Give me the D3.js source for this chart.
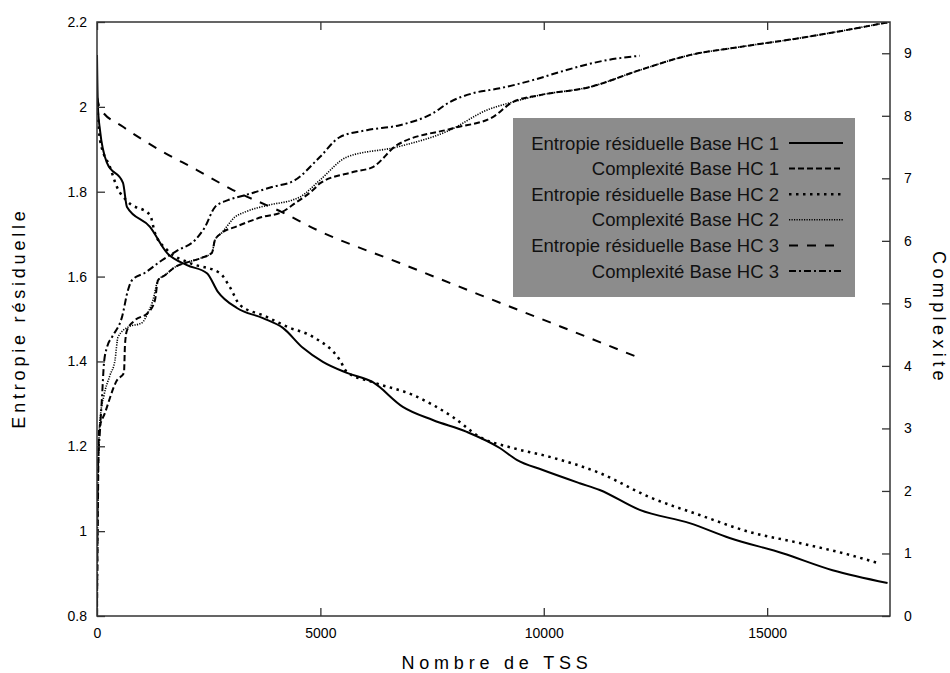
<!DOCTYPE html>
<html><head><meta charset="utf-8">
<script src="https://cdn.jsdelivr.net/npm/d3@7"></script>
<style>
html,body{margin:0;padding:0;background:#fff;}
svg{display:block;font-family:"Liberation Sans",Arial,sans-serif;}
</style></head>
<body>
<svg id="chart" width="950" height="673"></svg>
<script>
// ---- data (x = Nombre de TSS) ----
const entropieHC1 = [[0,2.122],[20,2.0],[67,1.945],[224,1.868],[582,1.821],[671,1.764],[1186,1.717],[1566,1.656],[2013,1.627],[2461,1.608],[2707,1.564],[3132,1.526],[3713,1.502],[4161,1.479],[4608,1.432],[5056,1.399],[5593,1.373],[6174,1.351],[6845,1.293],[7516,1.262],[8277,1.234],[9015,1.196],[9395,1.168],[9977,1.144],[10805,1.113],[11252,1.097],[12147,1.050],[13265,1.019],[14160,0.984],[15346,0.948],[16464,0.908],[17695,0.878]];
const entropieHC2 = [[0,2.02],[67,1.922],[291,1.858],[447,1.811],[693,1.776],[1186,1.745],[1297,1.703],[1566,1.663],[2080,1.632],[2751,1.608],[2975,1.575],[3199,1.533],[3758,1.507],[4273,1.481],[4832,1.458],[5436,1.403],[5593,1.375],[6174,1.351],[7069,1.321],[7964,1.269],[8568,1.222],[9306,1.196],[10133,1.175],[11252,1.137],[12371,1.080],[13489,1.038],[14608,0.998],[15726,0.972],[16845,0.944],[17471,0.925]];
const entropieHC3 = [[0,2.023],[67,1.997],[582,1.953],[1029,1.922],[1409,1.898],[2237,1.851],[3042,1.804],[4138,1.752],[4921,1.710],[6778,1.632],[8568,1.557],[10357,1.483],[12147,1.408]];
const complexiteHC1 = [[0,0],[22,1.86],[45,2.97],[179,3.25],[447,3.77],[604,3.89],[626,4.33],[671,4.57],[850,4.73],[1141,4.85],[1297,5.05],[1365,5.37],[1521,5.45],[1745,5.58],[2036,5.66],[2349,5.73],[2573,5.81],[2640,6.01],[2796,6.13],[3087,6.22],[3691,6.38],[4138,6.46],[4429,6.60],[4877,6.84],[4988,6.92],[5727,7.10],[6174,7.18],[6711,7.53],[7964,7.80],[8859,7.98],[9306,8.22],[9910,8.33],[11028,8.46],[12147,8.73],[13265,8.97],[14384,9.10],[15883,9.26],[17740,9.50]];
const complexiteHC2 = [[0,0],[22,2.17],[67,3.13],[157,3.53],[291,3.85],[403,4.09],[470,4.46],[693,4.62],[1007,4.69],[1141,4.85],[1253,5.05],[1365,5.37],[1521,5.45],[1745,5.58],[2036,5.66],[2349,5.73],[2573,5.81],[2640,6.01],[2796,6.13],[3087,6.38],[3311,6.46],[3825,6.57],[4362,6.65],[4541,6.70],[4988,6.97],[5593,7.34],[6711,7.50],[7897,7.77],[8724,8.09],[9306,8.22],[9910,8.33],[11028,8.46],[12147,8.73],[13265,8.97],[14384,9.10],[15883,9.26],[17740,9.50]];
const complexiteHC3 = [[0,0],[20,2.3],[67,2.97],[112,3.50],[157,4.05],[224,4.30],[336,4.46],[559,4.78],[693,5.21],[783,5.37],[1074,5.49],[1454,5.69],[1812,5.85],[2192,6.01],[2416,6.22],[2640,6.54],[2930,6.65],[3311,6.73],[3915,6.86],[4429,6.97],[4988,7.34],[5436,7.66],[6040,7.77],[6778,7.85],[7516,8.04],[7897,8.22],[8411,8.36],[9015,8.44],[9753,8.57],[10357,8.70],[10648,8.76],[11409,8.89],[12147,8.96]];

const xTicks = [0,5000,10000,15000];
const yLeftTicks = [0.8,1,1.2,1.4,1.6,1.8,2,2.2];
const yRightTicks = [0,1,2,3,4,5,6,7,8,9];
const legendLabels = ["Entropie résiduelle Base HC 1","Complexité Base HC 1","Entropie résiduelle Base HC 2","Complexité Base HC 2","Entropie résiduelle Base HC 3","Complexité Base HC 3"];

// ---- layout ----
const svg = d3.select("#chart");
const L = 97, R = 890, T = 22, B = 616;
const x = d3.scaleLinear().domain([0,17750]).range([L,R]);
const yL = d3.scaleLinear().domain([0.8,2.2]).range([B,T]);
const yR = d3.scaleLinear().domain([0,9.5]).range([B,T]);

const styles = [
  {data: entropieHC1, y: yL, dash: null, w: 2},
  {data: complexiteHC1, y: yR, dash: "6,3", w: 2},
  {data: entropieHC2, y: yL, dash: "2.5,4.5", w: 2.5},
  {data: complexiteHC2, y: yR, dash: "1.2,1.3", w: 1.6},
  {data: entropieHC3, y: yL, dash: "9,9", w: 2},
  {data: complexiteHC3, y: yR, dash: "7,3,2,3", w: 2}
];

svg.append("clipPath").attr("id","clip").append("rect")
  .attr("x",L).attr("y",T).attr("width",R-L).attr("height",B-T);

const g = svg.append("g").attr("clip-path","url(#clip)");
styles.forEach(s => {
  const line = d3.line().x(d => x(d[0])).y(d => s.y(d[1])).curve(d3.curveMonotoneX);
  g.append("path").datum(s.data).attr("d", line)
    .attr("fill","none").attr("stroke","#000").attr("stroke-width",s.w)
    .attr("stroke-dasharray", s.dash);
});

// frame
svg.append("rect").attr("x",L).attr("y",T).attr("width",R-L).attr("height",B-T)
  .attr("fill","none").attr("stroke","#333").attr("stroke-width",1.5);

const tickLen = 8;
const fmt = d => String(+d.toFixed(1));
const bx = svg.append("g").attr("transform",`translate(0,${B})`)
  .call(d3.axisBottom(x).tickValues(xTicks).tickSize(-tickLen).tickPadding(12).tickFormat(d3.format("d")));
const tx = svg.append("g").attr("transform",`translate(0,${T})`)
  .call(d3.axisTop(x).tickValues(xTicks).tickSize(-tickLen).tickFormat(""));
const ly = svg.append("g").attr("transform",`translate(${L},0)`)
  .call(d3.axisLeft(yL).tickValues(yLeftTicks).tickSize(-tickLen).tickPadding(10).tickFormat(fmt));
const ry = svg.append("g").attr("transform",`translate(${R},0)`)
  .call(d3.axisRight(yR).tickValues(yRightTicks).tickSize(-tickLen).tickPadding(14).tickFormat(d3.format("d")));
[bx,tx,ly,ry].forEach(a => {
  a.select(".domain").remove();
  a.selectAll(".tick line").attr("stroke","#333").attr("stroke-width",1.3);
  a.selectAll(".tick text").attr("font-size",14).attr("fill","#000")
    .attr("font-family","'Liberation Sans',Arial,sans-serif");
});

// axis titles
svg.append("text").attr("transform","translate(25,318) rotate(-90)")
  .attr("text-anchor","middle").attr("font-size",18).attr("letter-spacing","3.8px")
  .text("Entropie  résiduelle");
svg.append("text").attr("transform","translate(933,318) rotate(90)")
  .attr("text-anchor","middle").attr("font-size",18).attr("letter-spacing","4.4px")
  .text("Complexite");
svg.append("text").attr("x",497).attr("y",669)
  .attr("text-anchor","middle").attr("font-size",18).attr("letter-spacing","4.8px")
  .text("Nombre de TSS");

// legend
const lg = svg.append("g");
lg.append("rect").attr("x",513).attr("y",118).attr("width",342).attr("height",179).attr("fill","#8c8c8c");
legendLabels.forEach((lab,i) => {
  const yy = 143 + i*25.6;
  lg.append("text").attr("x",779).attr("y",yy+6.5).attr("text-anchor","end")
    .attr("font-size",18.5).attr("fill","#111").text(lab);
  const s = styles[i];
  lg.append("line").attr("x1",789).attr("x2",843).attr("y1",yy).attr("y2",yy)
    .attr("stroke","#000").attr("stroke-width",s.w).attr("stroke-dasharray",s.dash);
});
</script>
</body></html>
